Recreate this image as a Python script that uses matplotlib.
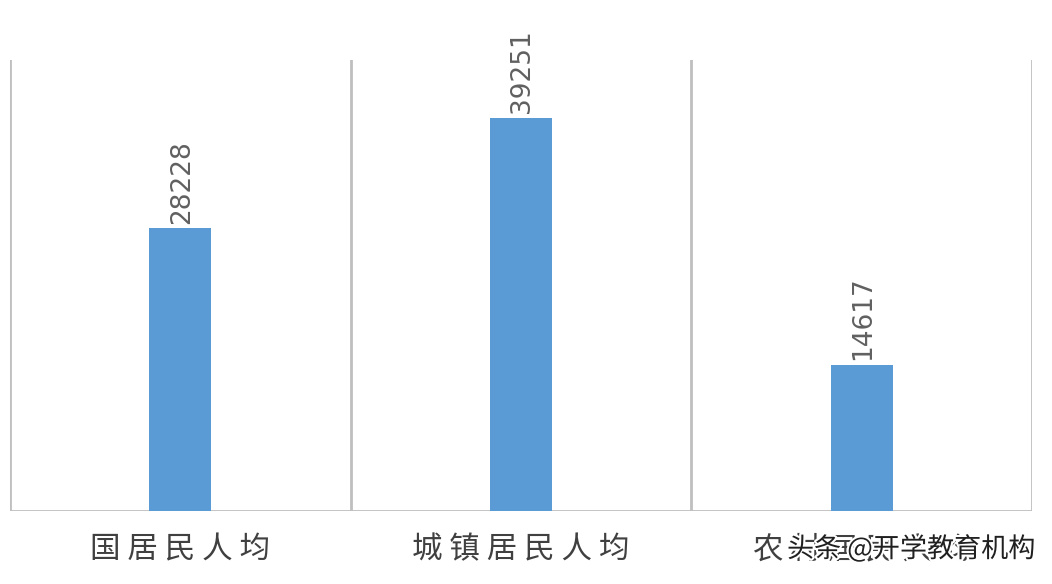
import matplotlib
matplotlib.use("Agg")
import matplotlib.pyplot as plt
import matplotlib.patheffects as pe

categories = ["国居民人均", "城镇居民人均", "农村居民人均"]
values = [28228, 39251, 14617]
watermark = "头条 @开学教育机构"

plt.rcParams['font.family'] = ['Noto Sans CJK SC', 'DejaVu Sans']

fig = plt.figure(figsize=(10.52, 5.84), dpi=100)
ax = fig.add_axes([10/1052, 73/584, 1022/1052, 451/584])

x = range(len(categories))
bars = ax.bar(x, values, width=0.182, color="#5B9BD5", zorder=3)
ax.set_xlim(-0.5, len(categories) - 0.5)
ax.set_ylim(0, 45000)

for b, v in zip(bars, values):
    ax.annotate(str(v), (b.get_x() + b.get_width()/2, b.get_height()),
                xytext=(1, 3), textcoords="offset points", rotation=90,
                ha="center", va="bottom", fontsize=19, color="#606060",
                family=["DejaVu Sans"])

for s in ["top", "left", "right", "bottom"]:
    ax.spines[s].set_visible(False)
for xv in [i - 0.5 for i in range(len(categories) + 1)]:
    ax.axvline(xv, color="#BFBFBF", lw=2, zorder=1)
ax.axhline(0, color="#BFBFBF", lw=2, zorder=2)

ax.set_yticks([])
ax.set_xticks(list(x))
ax.set_xticklabels([" ".join(c) for c in categories], fontsize=22, color="#404040")
ax.tick_params(axis="x", length=0, pad=17)

fig.text(787/1052, 1 - 549/584, watermark, fontsize=19.5, color="#202020",
         ha="left", va="center",
         path_effects=[pe.withStroke(linewidth=3, foreground="white")])

fig.savefig("out.png", dpi=100, facecolor="white")
